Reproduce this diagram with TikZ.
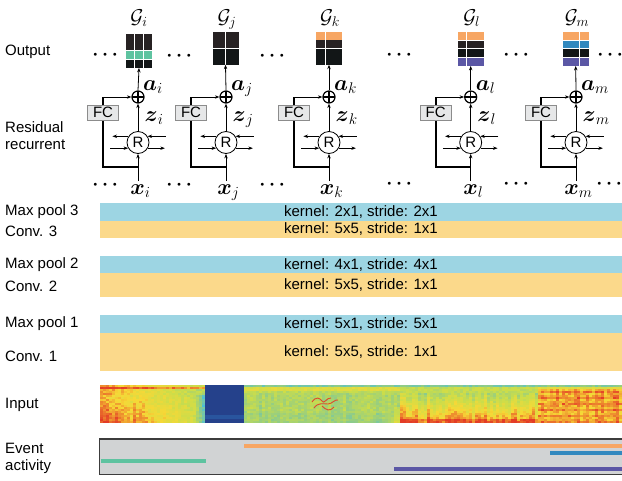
\RequirePackage{fix-cm}
\documentclass[tikz,border=0pt]{standalone}
\usepackage{amsmath,amsbsy}
\usepackage{fontspec}
\setmainfont{Liberation Sans}
\usetikzlibrary{arrows.meta}
\definecolor{poolc}{HTML}{9DD5E3}
\definecolor{convc}{HTML}{FBD98B}
\definecolor{dkA}{HTML}{272223}
\definecolor{dkB}{HTML}{121617}
\definecolor{orc}{HTML}{F7A663}
\definecolor{tlc}{HTML}{5EC3A0}
\definecolor{blc}{HTML}{3289BF}
\definecolor{puc}{HTML}{5B57A5}
\definecolor{fcfill}{HTML}{E6E7E8}
\definecolor{fcdraw}{HTML}{8C8C8C}
\definecolor{evfill}{HTML}{D1D3D4}
\definecolor{evdraw}{HTML}{3C3C3C}
\definecolor{sqc}{HTML}{E04A2A}
\definecolor{sc0}{HTML}{243A85}
\definecolor{sc1}{HTML}{2F73BA}
\definecolor{sc2}{HTML}{40BDE6}
\definecolor{sc3}{HTML}{8DCB8A}
\definecolor{sc4}{HTML}{CBDD4A}
\definecolor{sc5}{HTML}{F7D836}
\definecolor{sc6}{HTML}{E33A26}
\definecolor{sc7}{HTML}{E33A26}
\newcommand\specval{%
  \pgfmathsetmacro\sN{0.05*rand}%
  \ifdim\sX pt<205pt
    \pgfmathsetmacro\sU{(\sX-100)/105}%
    \ifdim\sT pt<2pt
      \pgfmathsetmacro\sV{0.9-0.25*\sU+\sN}%
    \else\ifdim\sT pt<5pt
      \pgfmathsetmacro\sV{1.0-0.12*\sU+\sN}%
    \else\ifdim\sT pt<10pt
      \pgfmathsetmacro\sV{0.9-0.3*\sU+\sN}%
    \else
      \pgfmathsetmacro\sV{0.62+0.38*(1-\sU)^0.8*(0.45+0.55*\sT/38)-max(0,\sU-0.88)*2.6+\sN+0.03*\sC}%
    \fi\fi\fi
  \else\ifdim\sX pt<244pt
    \pgfmathsetmacro\sV{0.02+0.06*(\sT>29)*(\sT<35)}%
  \else\ifdim\sX pt<400pt
    \ifdim\sT pt<2pt \pgfmathsetmacro\sV{0.47+\sN}%
    \else\ifdim\sT pt<6pt \pgfmathsetmacro\sV{0.73+\sN}%
    \else\ifdim\sT pt<9pt \pgfmathsetmacro\sV{0.63+\sN}%
    \else \pgfmathsetmacro\sV{0.59-0.04*(\sT>28)+0.04*\sC+\sN+max(0,\sX-388)/12*0.3*max(0,\sT-22)/16}%
    \fi\fi\fi
  \else\ifdim\sX pt<538pt
    \ifdim\sT pt<2pt \pgfmathsetmacro\sV{0.47+\sN}%
    \else\ifdim\sT pt<8pt \pgfmathsetmacro\sV{0.65+\sN}%
    \else \pgfmathsetmacro\sV{0.61+0.33*(\sT-8)/30+0.08*\sC+0.06*(\sT>34)+\sN}%
    \fi\fi
  \else
    \ifdim\sT pt<2pt \pgfmathsetmacro\sV{0.5+\sN}%
    \else\ifdim\sT pt<5pt \pgfmathsetmacro\sV{0.74+\sN}%
    \else \pgfmathsetmacro\sV{0.88+0.05*(mod(\ir,3)==0)+0.03*\sC+\sN}%
    \fi\fi
  \fi\fi\fi\fi}
\tikzset{
  arr/.style={-{Stealth[length=4.5pt,width=3.4pt]}, line width=0.8pt},
  skipl/.style={line width=1.7pt},
  rnode/.style={circle, draw, line width=0.8pt, minimum size=22pt, inner sep=0pt, font=\fontsize{15}{15}\selectfont},
  plusnode/.style={circle, draw, line width=1.2pt, minimum size=12pt, inner sep=0pt,
    path picture={\draw[line width=1.2pt] (path picture bounding box.north) -- (path picture bounding box.south) (path picture bounding box.west) -- (path picture bounding box.east);}},
  fcbox/.style={rectangle, draw=fcdraw, fill=fcfill, line width=1pt, minimum width=31pt, minimum height=15pt, inner sep=0pt, font=\fontsize{15}{15}\selectfont},
  lbl/.style={anchor=west, inner sep=0pt, font=\fontsize{15}{17}\selectfont, align=left},
  bar/.style={rectangle, minimum width=522pt, inner sep=0pt, font=\fontsize{15}{15}\selectfont},
  mlab/.style={inner sep=0pt, font=\fontsize{22}{26}\selectfont},
  glab/.style={inner sep=0pt, font=\fontsize{20}{24}\selectfont},
  dotn/.style={inner sep=0pt, font=\fontsize{19}{19}\selectfont},
  gridn/.style={rectangle, inner sep=0pt, minimum width=26pt},
  evline/.style={line width=3.7pt},
  gsep/.style={white, line width=1pt},
}
\begin{document}
\begin{tikzpicture}[x=1pt,y=-1pt]
\useasboundingbox (0,0) rectangle (622,480);
% ---- left labels
\node[lbl] (lOut) at (5,52) {Output};
\node[lbl] (lRes) at (5,135.5) {Residual\\recurrent};
\node[lbl] (lMP3) at (5,212) {Max pool 3};
\node[lbl] (lC3) at (5,231) {Conv. 3};
\node[lbl] (lMP2) at (5,265) {Max pool 2};
\node[lbl] (lC2) at (5,286) {Conv. 2};
\node[lbl] (lMP1) at (5,324) {Max pool 1};
\node[lbl] (lC1) at (5,356) {Conv. 1};
\node[lbl] (lIn) at (5,405) {Input};
\node[lbl] (lEv) at (5,458) {Event\\activity};
% ---- layer bars
\node[bar, fill=poolc, minimum height=18pt] (MP3) at (361,212) {kernel: 2x1, stride: 2x1};
\node[bar, fill=convc, minimum height=17pt] (C3) at (361,229.5) {kernel: 5x5, stride: 1x1};
\node[bar, fill=poolc, minimum height=17.3pt] (MP2) at (361,264.65) {kernel: 4x1, stride: 4x1};
\node[bar, fill=convc, minimum height=24pt] (C2) at (361,285.3) {kernel: 5x5, stride: 1x1};
\node[bar, fill=poolc, minimum height=17.7pt] (MP1) at (361,323.85) {kernel: 5x1, stride: 5x1};
\node[bar, fill=convc, minimum height=38pt] (C1) at (361,351.7) {kernel: 5x5, stride: 1x1};
% ---- spectrogram
\pgfmathsetseed{7}
\foreach \ic in {0,...,173}{%
  \pgfmathsetmacro\sX{100+3*\ic}%
  \pgfmathsetmacro\sC{rand}%
  \foreach \ir in {0,...,18}{%
    \pgfmathsetmacro\sT{2*\ir+1}%
    \specval
    \pgfmathsetmacro\sV{max(0,min(0.999,\sV))}%
    \pgfmathtruncatemacro\sI{floor(\sV*6)}%
    \pgfmathtruncatemacro\sJ{\sI+1}%
    \pgfmathtruncatemacro\sP{round(100*(\sI+1-\sV*6))}%
    \fill[sc\sI!\sP!sc\sJ] (\sX,385+2*\ir) rectangle ++(3.25,2.25);
  }
}
\draw[sqc, line width=0.9pt] (312,402) .. controls (316,396) and (320,398) .. (322,401) .. controls (324,405) and (327,397) .. (331,398);
\draw[sqc, line width=0.9pt] (314,408) .. controls (318,402) and (324,404) .. (328,404) .. controls (332,404) and (335,399) .. (338,400);
\draw[sqc, line width=0.9pt] (322,406) .. controls (326,410) and (330,412) .. (334,407);
% ---- event activity
\draw[draw=evdraw, fill=evfill, line width=1.5pt] (99.5,439) rectangle (624,474.5);
\draw[evline, orc] (244,445.8) -- (622,445.8);
\draw[evline, blc] (550,453) -- (622,453);
\draw[evline, tlc] (100.5,460.7) -- (205.5,460.7);
\draw[evline, puc] (394,469) -- (622,469);
% ---- output grids
\node[gridn, minimum height=33.7pt] (Gi) at (139,50.85) {};
\fill[dkA] (126,34) rectangle (152,50.3);
\fill[tlc] (126,50.3) rectangle (152,59);
\fill[dkB] (126,59) rectangle (152,67.7);
\draw[gsep] (134.7,34) -- (134.7,67.7) (143.3,34) -- (143.3,67.7) (126,50.3) -- (152,50.3) (126,59) -- (152,59);
\node[gridn, minimum height=32.5pt] (Gj) at (225.5,48.25) {};
\fill[dkA] (212.5,32) rectangle (238.5,48.3);
\fill[dkB] (212.5,48.3) rectangle (238.5,64.5);
\draw[gsep] (225.5,32) -- (225.5,64.5) (212.5,48.3) -- (238.5,48.3);
\node[gridn, minimum height=32.5pt] (Gk) at (329,48.25) {};
\fill[orc] (316,32) rectangle (342,39.5);
\fill[dkA] (316,39.5) rectangle (342,48.5);
\fill[dkB] (316,48.5) rectangle (342,64.5);
\draw[gsep] (325,32) -- (325,64.5) (316,48.5) -- (342,48.5);
\node[gridn, minimum height=33.4pt] (Gl) at (470.7,49) {};
\fill[orc] (457.7,32.3) rectangle (483.7,40.3);
\fill[dkA] (457.7,40.3) rectangle (483.7,48.7);
\fill[dkB] (457.7,48.7) rectangle (483.7,57.2);
\fill[puc] (457.7,57.2) rectangle (483.7,65.7);
\draw[gsep] (466.7,32.3) -- (466.7,65.7) (457.7,40.3) -- (483.7,40.3) (457.7,48.7) -- (483.7,48.7) (457.7,57.2) -- (483.7,57.2);
\node[gridn, minimum height=33.7pt] (Gm) at (575.7,48.85) {};
\fill[orc] (562.7,32) rectangle (588.7,40.2);
\fill[blc] (562.7,40.2) rectangle (588.7,48.7);
\fill[dkB] (562.7,48.7) rectangle (588.7,57.2);
\fill[puc] (562.7,57.2) rectangle (588.7,65.7);
\draw[gsep] (579.3,32) -- (579.3,65.7) (562.7,40.2) -- (588.7,40.2) (562.7,48.7) -- (588.7,48.7) (562.7,57.2) -- (588.7,57.2);
% ---- residual recurrent units
\foreach \cx/\s in {138/i, 226/j, 329/k, 470.7/l, 576/m}{
  \node[rnode] (R\s) at (\cx,142.5) {R};
  \node[plusnode] (P\s) at (\cx,97) {};
  \node[glab, anchor=base] (L\s) at (\cx+1,23.5) {$\mathcal{G}_\s$};
  \node[mlab, anchor=base west] (A\s) at (\cx+5,90) {$\boldsymbol{a}_\s$};
  \node[mlab, anchor=base west] (Z\s) at (\cx+6.5,121.5) {$\boldsymbol{z}_\s$};
  \node[mlab, anchor=base] (X\s) at (\cx+2.5,194) {$\boldsymbol{x}_\s$};
  \coordinate (J\s) at (\cx,167);
  \coordinate (K\s) at (\cx-35,97);
  \draw[skipl] (J\s) -| (K\s);
  \draw[arr] (K\s) -- (P\s.west);
  \node[fcbox] (F\s) at (\cx-35,112.5) {FC};
  \draw[arr, shorten <=3pt] (X\s.north -| R\s.center) -- (R\s.south);
  \draw[arr] (R\s.north) -- (P\s.south);
  \draw[arr] (P\s.north) -- (G\s.south);
  \draw[arr] (R\s.147) -- ++(-16,0);
  \draw[arr] ([xshift=18pt]R\s.33) -- (R\s.33);
  \draw[arr] ([xshift=-18pt]R\s.210) -- (R\s.210);
  \draw[arr] (R\s.330) -- ++(17,0);
}
% ---- ellipses
\foreach \dx/\dy/\nm in {107/55/t1, 181/56/t2, 274/56/t3, 401/55/t4, 518/55/t5, 612/55/t6,
  107/185/b1, 181/185/b2, 274/185/b3, 401/184/b4, 518/184/b5, 611/184/b6}{
  \node[dotn] (D\nm) at (\dx,\dy) {$\boldsymbol{\cdots}$};
}
\end{tikzpicture}
\end{document}
